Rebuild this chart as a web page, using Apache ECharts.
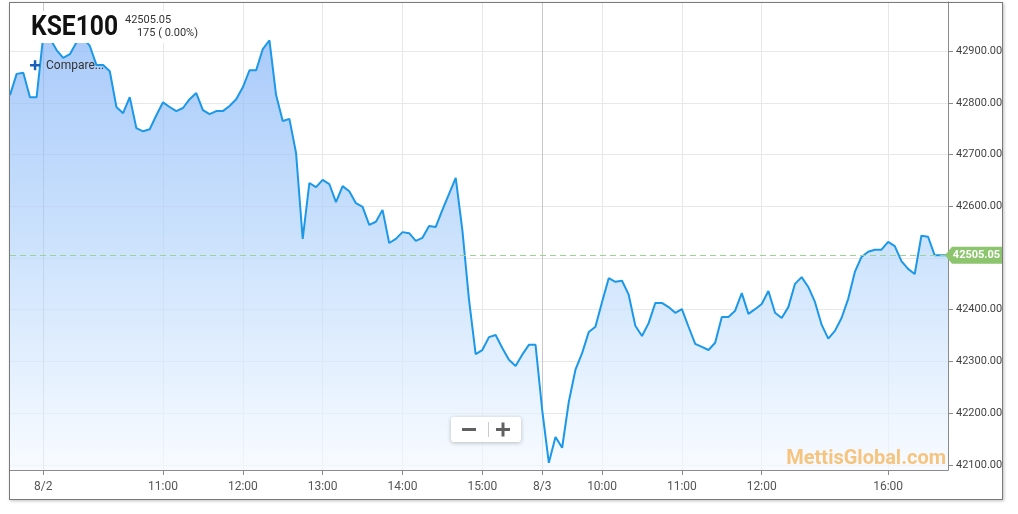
<!DOCTYPE html>
<html><head><meta charset="utf-8">
<script src="https://cdn.jsdelivr.net/npm/echarts@6/dist/echarts.min.js"></script>
<style>
html,body{margin:0;padding:0;background:#fff;}
#c{width:1018px;height:514px;}
#frame{position:absolute;left:9px;top:2px;width:994px;height:498px;border:1px solid #7a7a7a;box-sizing:border-box;box-shadow:1px 1px 3px rgba(0,0,0,0.25);pointer-events:none;}
</style></head>
<body><div id="c"></div><div id="frame"></div>
<script>
// sessions: [date, first time, number of 5-minute points]
const sessions = [['8/1','15:10',5],['8/2','09:30',73],['8/3','09:05',36],['8/3','14:30',28]];
const values = [
42815,42856,42858,42811,42811,
42930,42925,42902,42887,42894,42917,42925,42910,42873,42873,
42861,42792,42780,42811,42751,42745,42749,42776,42801,42792,
42784,42790,42807,42819,42786,42778,42784,42784,42794,42807,
42830,42863,42863,42904,42921,42815,42765,42769,42703,42537,
42645,42637,42651,42643,42608,42639,42629,42606,42599,42564,
42570,42593,42529,42537,42550,42548,42533,42539,42562,42560,
42593,42624,42655,42554,42419,42314,42322,42347,42351,42326,
42303,42291,42313,42332,42332,42206,42104,42154,42133,42222,
42284,42316,42357,42367,42415,42461,42454,42456,42429,42369,
42349,42374,42413,42413,42405,42394,42401,42367,42334,42328,
42322,42336,42386,42386,42398,42432,42392,42401,42411,42436,
42394,42384,42405,42450,42463,42444,42415,42371,42344,42359,
42384,42421,42473,42502,42512,42516,42516,42531,42523,42494,
42479,42469,42543,42541,42505.05,42505.05,42505.05
];
const tickIndex = [5,23,35,47,59,71,80,89,101,113,132];
const tickText = ['8/2','11:00','12:00','13:00','14:00','15:00','8/3','10:00','11:00','12:00','16:00'];
const dayStartTicks = ['8/2','8/3'];
const yTicks = [42100,42200,42300,42400,42500,42600,42700,42800,42900];
const symbolName = 'KSE100';
const lastValue = 42505.05;
const changeText = '175 ( 0.00%)';
const compareText = 'Compare...';
const watermark = 'MettisGlobal.com';

const categories = [];
sessions.forEach(([d,t,n]) => {
  let [h,m] = t.split(':').map(Number);
  for (let k = 0; k < n; k++) {
    categories.push(d + ' ' + String(h).padStart(2,'0') + ':' + String(m).padStart(2,'0'));
    m += 5; if (m >= 60) { m -= 60; h++; }
  }
});

const tickSet = new Set(tickIndex);
const showTick = (i) => tickSet.has(i);
const splitColors = tickText.map(t => dayStartTicks.includes(t) ? '#c9c9c9' : '#e8e8e8');

const chart = echarts.init(document.getElementById('c'));
chart.setOption({
  animation: false,
  textStyle: {fontFamily: 'Roboto'},
  grid: {left: 10, right: 70, top: 2, bottom: 44},
  xAxis: {
    type: 'category', data: categories, boundaryGap: false,
    axisLine: {lineStyle: {color: '#8a8a8a'}},
    axisTick: {interval: (i) => showTick(i), length: 5, lineStyle: {color: '#8a8a8a'}},
    axisLabel: {interval: (i) => showTick(i), formatter: (v, i) => tickText[tickIndex.indexOf(i)],
      color: '#555', fontSize: 12, margin: 11},
    splitLine: {show: true, interval: (i) => showTick(i), lineStyle: {color: splitColors, width: 1}}
  },
  yAxis: {
    type: 'value', position: 'right', min: 42090, max: 42995,
    axisLine: {show: true, lineStyle: {color: '#8a8a8a'}},
    axisTick: {show: true, length: 5, customValues: yTicks, lineStyle: {color: '#8a8a8a'}},
    axisLabel: {customValues: yTicks, formatter: v => v.toFixed(2), color: '#444', fontSize: 11, margin: 8},
    splitLine: {show: true, lineStyle: {color: '#e8e8e8'}}
  },
  series: [{
    type: 'line', data: values, symbol: 'none',
    lineStyle: {color: '#1b98e8', width: 2},
    areaStyle: {color: new echarts.graphic.LinearGradient(0, 0, 0, 1, [
      {offset: 0, color: '#84b3f7'}, {offset: 0.5, color: '#b8d7fb'}, {offset: 1, color: '#f4f9ff'}])},
    markLine: {
      silent: true, symbol: 'none', label: {show: false},
      lineStyle: {type: [6, 4], color: '#9dd296', width: 1},
      data: [{yAxis: lastValue}]
    },
    markPoint: {
      silent: true,
      symbol: 'path://M0,8.5 L7,0 L57,0 L57,17 L7,17 Z',
      symbolSize: [57, 17], symbolKeepAspect: false, symbolOffset: [25.5, 0],
      itemStyle: {color: '#8cc56e'},
      label: {show: true, formatter: () => lastValue.toFixed(2), color: '#fff', fontWeight: 'bold', fontSize: 11, offset: [3, 0]},
      data: [{coord: [categories[values.length - 1], lastValue]}]
    }
  }],
  graphic: [
    {id: 'titleBg', type: 'rect', z: 100, shape: {x: 28, y: 11, width: 176, height: 32}, style: {fill: '#fff'}},
    {id: 'titleTxt', type: 'text', z: 101, x: 31, y: 28, scaleX: 0.88, style: {text: symbolName, font: 'bold 28px Roboto', fill: '#111', verticalAlign: 'middle'}},
    {id: 'priceTxt', type: 'text', z: 101, x: 125, y: 20, style: {text: lastValue.toFixed(2), font: '11px Roboto', fill: '#333', verticalAlign: 'middle'}},
    {id: 'chgTxt', type: 'text', z: 101, x: 198, y: 33, style: {text: changeText, font: '11px Roboto', fill: '#333', align: 'right', verticalAlign: 'middle'}},
    {id: 'plusH', type: 'rect', z: 101, shape: {x: 30, y: 64, width: 10, height: 2.5}, style: {fill: '#1c5fb8'}},
    {id: 'plusV', type: 'rect', z: 101, shape: {x: 33.8, y: 60.2, width: 2.5, height: 10}, style: {fill: '#1c5fb8'}},
    {id: 'cmpTxt', type: 'text', z: 101, x: 46, y: 66, style: {text: compareText, font: '12px Roboto', fill: '#333', verticalAlign: 'middle'}},
    {id: 'wm', type: 'text', z: 101, x: 946, y: 459, style: {text: watermark, font: 'bold 20px Roboto', fill: '#f6c47f', align: 'right', verticalAlign: 'middle'}},
    {id: 'zbox', type: 'rect', z: 101, shape: {x: 451, y: 417, width: 70, height: 25, r: 3}, style: {fill: '#fff', shadowBlur: 4, shadowColor: 'rgba(0,0,0,0.25)', shadowOffsetY: 1}},
    {id: 'zminus', type: 'rect', z: 102, shape: {x: 462, y: 428, width: 14, height: 3}, style: {fill: '#606060'}},
    {id: 'zsep', type: 'line', z: 102, shape: {x1: 488.5, y1: 422, x2: 488.5, y2: 437}, style: {stroke: '#cccccc', lineWidth: 1}},
    {id: 'zplusH', type: 'rect', z: 102, shape: {x: 496, y: 428, width: 14, height: 3}, style: {fill: '#606060'}},
    {id: 'zplusV', type: 'rect', z: 102, shape: {x: 501.5, y: 422.5, width: 3, height: 14}, style: {fill: '#606060'}}
  ]
});
</script>
</body></html>
